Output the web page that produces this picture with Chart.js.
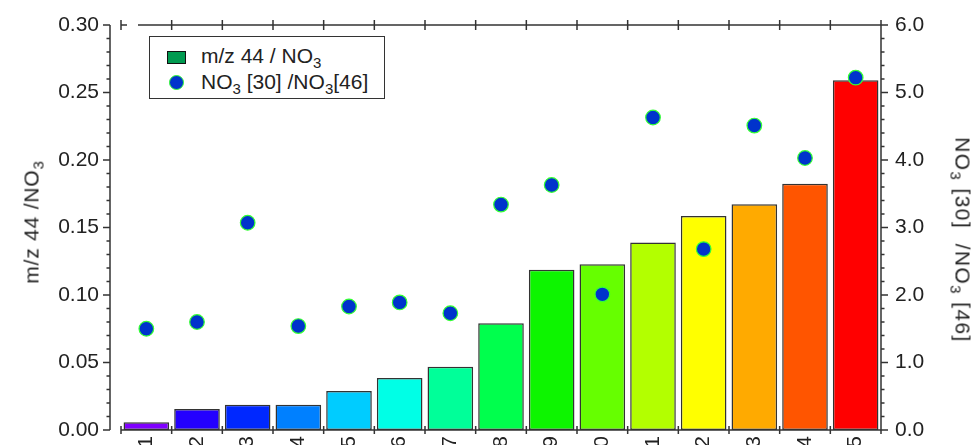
<!DOCTYPE html>
<html>
<head>
<meta charset="utf-8">
<script src="https://cdn.jsdelivr.net/npm/chart.js@4"></script>
<style>
  html, body { margin: 0; padding: 0; background: #fff; overflow: hidden; }
  #wrap { position: relative; width: 973px; height: 480px; font-family: "Liberation Sans", Arial, sans-serif; color: #222; }
  #legend {
    position: absolute; left: 149px; top: 36px; width: 236px; height: 63px;
    box-sizing: border-box; border: 1.5px solid #333; background: #fff; font-size: 21px;
  }
  .item { position: absolute; left: 0; height: 24px; line-height: 24px; white-space: nowrap; }
  .item span.txt { position: absolute; left: 51px; top: -1px; }
  .sw { position: absolute; left: 17px; top: 6px; width: 17px; height: 11px; background: #009a50; border: 1.5px solid #111; }
  .dot { position: absolute; left: 19px; top: 4px; width: 13px; height: 13px; border-radius: 50%; background: #0033cc; border: 1.5px solid #33ff33; }
  sub { font-size: 15px; vertical-align: -5px; line-height: 0; }
  .anchor { position: absolute; width: 0; height: 0; }
  .anchor span { position: absolute; left: 0; top: 0; white-space: nowrap; font-size: 21px; line-height: 21px; letter-spacing: 0.8px; }
  #ltitle span { transform: translate(-50%, -50%) rotate(-90deg); }
  #rtitle span { transform: translate(-50%, -50%) rotate(90deg); letter-spacing: 1.4px; }
</style>
</head>
<body>
<div id="wrap">
  <canvas id="c" width="973" height="480"></canvas>
  <div id="legend">
    <div class="item" style="top:8px"><div class="sw"></div><span class="txt">m/z 44 / NO<sub>3</sub></span></div>
    <div class="item" style="top:34px"><div class="dot"></div><span class="txt">NO<sub>3</sub> [30] /NO<sub>3</sub>[46]</span></div>
  </div>
  <div class="anchor" id="ltitle" style="left:31px; top:222px"><span>m/z 44 /NO<sub>3</sub></span></div>
  <div class="anchor" id="rtitle" style="left:963px; top:240px"><span>NO<sub>3</sub> [30]&nbsp; /NO<sub>3</sub> [46]</span></div>
</div>
<script>
const categories = ['1','2','3','4','5','6','7','8','9','10','11','12','13','14','15'];
const mz44Ratio = [0.0057, 0.0156, 0.0187, 0.0187, 0.0289, 0.0385, 0.0469, 0.079, 0.1187, 0.1227, 0.1388, 0.1585, 0.1672, 0.1825, 0.259];
const no3Ratio = [1.50, 1.60, 3.07, 1.54, 1.83, 1.89, 1.73, 3.34, 3.63, 2.01, 4.63, 2.68, 4.51, 4.03, 5.22];
const barColors = ['#8000ff','#2400ff','#0028ff','#0080ff','#00ccff','#00ffe6','#00ff99','#00ff4d','#0df500','#66ff00','#b3ff00','#ffff00','#ffaa00','#ff5500','#ff0000'];

const ink = '#333';
const fontFam = '"Liberation Sans", Arial, sans-serif';

// axes are drawn by hand: left axis sits off the plot box, ticks cross the frame
const frame = {
  id: 'frame',
  afterDatasetsDraw(chart) {
    const ctx = chart.ctx;
    const a = chart.chartArea;
    const y = chart.scales.y, y1 = chart.scales.y1;
    const n = categories.length;
    const step = (a.right - a.left) / n;
    const lx = a.left - 11;
    ctx.save();
    ctx.strokeStyle = ink;
    ctx.lineWidth = 1.5;
    ctx.beginPath();
    // left axis
    ctx.moveTo(lx, a.top); ctx.lineTo(lx, a.bottom);
    for (let i = 0; i <= 30; i++) {
      const py = y.getPixelForValue(i / 100);
      const len = i % 5 === 0 ? 7 : 3.5;
      ctx.moveTo(lx, py); ctx.lineTo(lx - len, py);
    }
    // right axis
    ctx.moveTo(a.right, a.top); ctx.lineTo(a.right, a.bottom);
    for (let i = 0; i <= 30; i++) {
      const py = y1.getPixelForValue(i / 5);
      const len = i % 5 === 0 ? 7 : 3.5;
      ctx.moveTo(a.right, py); ctx.lineTo(a.right + len, py);
    }
    // bottom and top frame
    ctx.moveTo(a.left, a.bottom); ctx.lineTo(a.right, a.bottom);
    ctx.moveTo(a.left, a.top); ctx.lineTo(a.left + 6, a.top);
    ctx.moveTo(a.left + 17, a.top); ctx.lineTo(a.right, a.top);
    for (let i = 0; i <= n; i++) {
      const px = a.left + i * step;
      ctx.moveTo(px, a.bottom - 4); ctx.lineTo(px, a.bottom + 4);
      ctx.moveTo(px, a.top - 5); ctx.lineTo(px, a.top + 5);
    }
    ctx.stroke();
    ctx.restore();
  }
};

// tick padding would otherwise push the plot box down
const noVPad = s => { s.paddingTop = 12; s.paddingBottom = 12; };

new Chart(document.getElementById('c'), {
  type: 'bar',
  data: {
    labels: categories,
    datasets: [
      {
        type: 'line',
        label: 'NO3 [30] /NO3[46]',
        data: no3Ratio,
        yAxisID: 'y1',
        showLine: false,
        pointRadius: 7.3,
        pointBackgroundColor: '#0033cc',
        pointBorderColor: '#33ff33',
        pointBorderWidth: 1.2,
        order: 0
      },
      {
        label: 'm/z 44 / NO3',
        data: mz44Ratio,
        yAxisID: 'y',
        backgroundColor: barColors,
        borderColor: ink,
        borderWidth: 1.5,
        borderSkipped: false,
        barPercentage: 0.9,
        categoryPercentage: 1,
        order: 1
      }
    ]
  },
  options: {
    responsive: false,
    animation: false,
    layout: { padding: { top: 25, left: 0, right: 0, bottom: 0 } },
    plugins: { legend: { display: false }, tooltip: { enabled: false } },
    scales: {
      x: {
        type: 'category',
        grid: { display: false, drawTicks: false },
        border: { display: false },
        ticks: {
          autoSkip: false,
          minRotation: 90, maxRotation: 90, padding: 6,
          color: '#222', font: { family: fontFam, size: 21 }
        },
        afterFit(s) { s.height = 50; }
      },
      y: {
        position: 'left',
        min: 0, max: 0.30,
        grid: { display: false, drawTicks: false },
        border: { display: false },
        ticks: {
          stepSize: 0.05, padding: 22, color: '#222',
          font: { family: fontFam, size: 21 },
          callback: v => v.toFixed(2)
        },
        afterFit(s) { s.width = 121; noVPad(s); }
      },
      y1: {
        position: 'right',
        min: 0, max: 6,
        grid: { display: false, drawTicks: false },
        border: { display: false },
        ticks: {
          stepSize: 1, padding: 14, color: '#222',
          font: { family: fontFam, size: 21 },
          callback: v => v.toFixed(1)
        },
        afterFit(s) { s.width = 92; noVPad(s); }
      }
    }
  },
  plugins: [frame]
});
</script>
</body>
</html>
